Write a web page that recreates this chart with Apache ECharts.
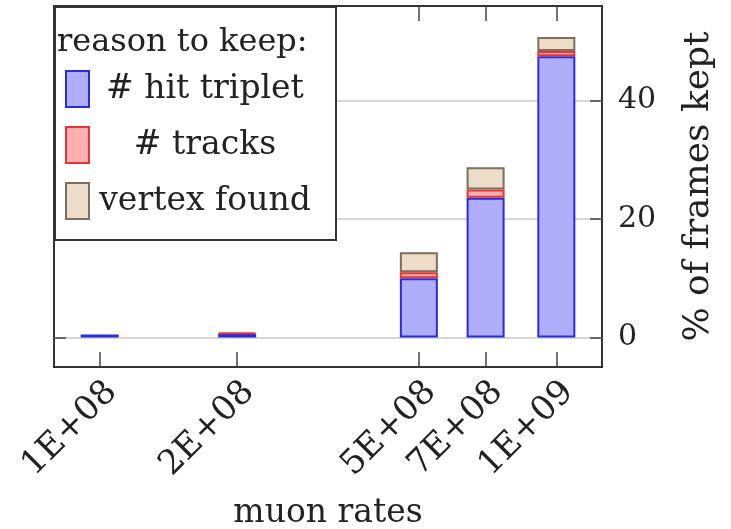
<!DOCTYPE html>
<html><head><meta charset="utf-8">
<script src="https://cdn.jsdelivr.net/npm/echarts@6/dist/echarts.min.js"></script>
<style>html,body{margin:0;padding:0;background:#fff}#c{width:731px;height:529px}</style>
</head><body><div id="c"></div>
<script>
const rates = [1e8, 2e8, 5e8, 7e8, 1e9];
const rateLabels = ['1E+08', '2E+08', '5E+08', '7E+08', '1E+09'];
const hitTriplet = [0.5, 0.6, 10.0, 23.6, 47.5];
const tracks = [null, 0.2, 1.0, 1.4, 0.9];
const vertexFound = [null, null, 3.4, 3.75, 2.35];
const yTicks = [0, 20, 40];
const seriesNames = ['# hit triplet', '# tracks', 'vertex found'];
const legendTitle = 'reason to keep:';
const xTitle = 'muon rates';
const yTitle = '% of frames kept';

const FONT = '"DejaVu Serif", serif';
const TXT = '#222';

function rateLabel(v) {
  let best = 0, d = Infinity;
  rates.forEach((r, i) => { const dd = Math.abs(Math.log10(v) - Math.log10(r)); if (dd < d) { d = dd; best = i; } });
  return d < 0.02 ? rateLabels[best] : '';
}

const styles = [
  { color: '#aeaefa', borderColor: '#2a2ade' },
  { color: '#ffb0b0', borderColor: '#e63535' },
  { color: '#ecdcc8', borderColor: '#7d6e60' }
];
const values = [hitTriplet, tracks, vertexFound];

const chart = echarts.init(document.getElementById('c'), null, { renderer: 'canvas' });
const tickStyle = { color: '#444', width: 1.5 };

chart.setOption({
  animation: false,
  backgroundColor: '#fff',
  grid: { left: 54, right: 129, top: 6, bottom: 162, show: true, borderColor: '#333', borderWidth: 2, backgroundColor: 'transparent', outerBoundsMode: 'none' },
  xAxis: [{
    type: 'log', logBase: 10, min: Math.pow(10, 7.9), max: Math.pow(10, 9.1), position: 'bottom',
    axisLine: { show: false, onZero: false }, splitLine: { show: false }, minorTick: { show: false },
    axisTick: { show: true, inside: true, length: 15, lineStyle: tickStyle, customValues: rates },
    axisLabel: { customValues: rates, formatter: rateLabel, rotate: 45, align: 'right', verticalAlign: 'top', margin: 8,
      fontSize: 34, fontFamily: FONT, color: TXT },
    name: xTitle, nameLocation: 'middle', nameGap: 130, nameMoveOverlap: false,
    nameTextStyle: { fontSize: 33, fontFamily: FONT, color: TXT }
  }, {
    type: 'log', logBase: 10, min: Math.pow(10, 7.9), max: Math.pow(10, 9.1), position: 'top',
    axisLine: { show: false, onZero: false }, splitLine: { show: false },
    axisTick: { show: true, inside: true, length: 15, lineStyle: tickStyle, customValues: rates },
    axisLabel: { show: false }
  }],
  yAxis: [{
    type: 'value', min: -5, max: 56, position: 'right',
    axisLine: { show: false, onZero: false },
    axisTick: { show: true, inside: true, length: 12, lineStyle: tickStyle, customValues: yTicks },
    axisLabel: { customValues: yTicks, margin: 16, fontSize: 30, fontFamily: FONT, color: TXT },
    splitLine: { show: true, lineStyle: { color: '#c8c8c8', width: 1.5 } },
    name: yTitle, nameLocation: 'middle', nameGap: 79, nameMoveOverlap: false,
    nameTextStyle: { fontSize: 36, fontFamily: FONT, color: TXT }
  }, {
    type: 'value', min: -5, max: 56, position: 'left',
    axisLine: { show: false, onZero: false }, splitLine: { show: false },
    axisTick: { show: true, inside: true, length: 12, lineStyle: tickStyle, customValues: yTicks },
    axisLabel: { show: false }
  }],
  legend: {
    orient: 'vertical', left: 65, top: 70, padding: 0, itemWidth: 23, itemHeight: 36, itemGap: 18, z: 20,
    icon: 'rect',
    data: seriesNames,
    formatter: name => '{c|' + name + '}',
    textStyle: { fontSize: 33, fontFamily: FONT, color: TXT,
      rich: { c: { width: 222, align: 'center', fontSize: 33, fontFamily: FONT, color: TXT } } }
  },
  graphic: [
    { type: 'rect', z: 15, shape: { x: 55, y: 7, width: 281, height: 233 }, style: { fill: '#fff', stroke: '#333', lineWidth: 2 } },
    { type: 'text', z: 16, x: 57, y: 43, style: { text: legendTitle, fontSize: 32, fontFamily: FONT, fill: TXT, verticalAlign: 'middle' } }
  ],
  series: seriesNames.map((n, k) => ({
    name: n, type: 'bar', stack: 'keep', barWidth: 38, xAxisIndex: 0, yAxisIndex: 0,
    itemStyle: { color: styles[k].color, borderColor: styles[k].borderColor, borderWidth: 2 },
    encode: { x: 1, y: 0 },
    data: rates.map((r, i) => [values[k][i], r])
  }))
});
</script>
</body></html>
